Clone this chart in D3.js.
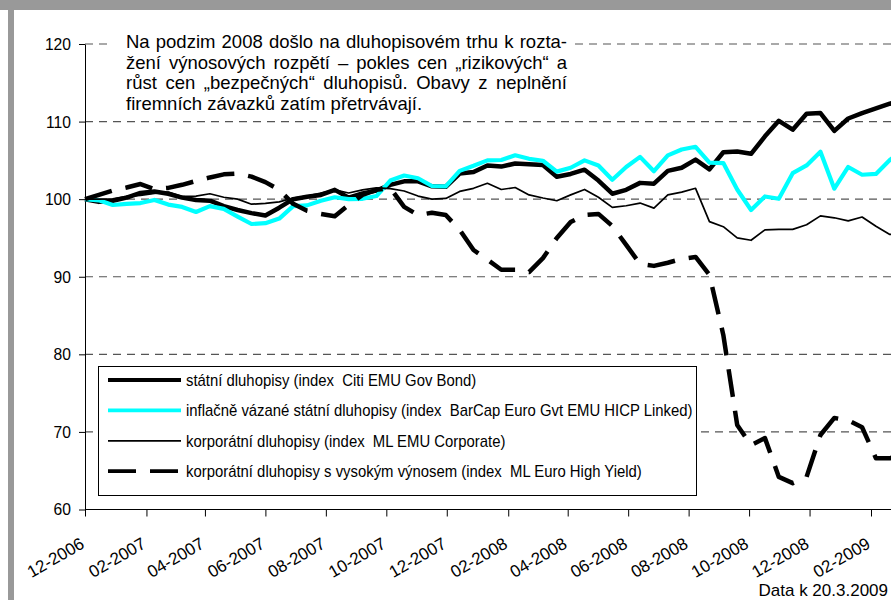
<!DOCTYPE html>
<html>
<head>
<meta charset="utf-8">
<script src="https://cdn.jsdelivr.net/npm/d3@7"></script>
<style>
  body { margin: 0; background: #fff; }
</style>
</head>
<body>
<div class="chart"></div>
<script>
// biweekly observations, index = 100 at start
const dates = [
  "2006-12-01","2006-12-15","2006-12-29","2007-01-12","2007-01-26","2007-02-09","2007-02-23","2007-03-09","2007-03-23","2007-04-06",
  "2007-04-20","2007-05-04","2007-05-18","2007-06-01","2007-06-15","2007-06-29","2007-07-13","2007-07-27","2007-08-10","2007-08-24",
  "2007-09-07","2007-09-21","2007-10-05","2007-10-19","2007-11-02","2007-11-16","2007-11-30","2007-12-14","2007-12-28","2008-01-11",
  "2008-01-25","2008-02-08","2008-02-22","2008-03-07","2008-03-21","2008-04-04","2008-04-18","2008-05-02","2008-05-16","2008-05-30",
  "2008-06-13","2008-06-27","2008-07-11","2008-07-25","2008-08-08","2008-08-22","2008-09-05","2008-09-19","2008-10-03","2008-10-17",
  "2008-10-31","2008-11-14","2008-11-28","2008-12-12","2008-12-26","2009-01-09","2009-01-23","2009-02-06","2009-02-20","2009-03-06"
];

const statni = [
  100, 99.65, 99.8, 100.2, 100.8, 101.0, 100.7, 100.2, 99.9, 99.8,
  99.1, 98.6, 98.2, 97.9, 98.9, 100.0, 100.3, 100.55, 101.2, 100.2,
  100.75, 101.1, 101.85, 102.3, 102.3, 101.65, 101.6, 103.3, 103.5, 104.35,
  104.2, 104.6, 104.5, 104.4, 102.9, 103.25, 103.8, 102.4, 100.7, 101.2,
  102.1, 102.0, 103.65, 104.05, 105.1, 103.85, 106.05, 106.15, 105.85, 108.1,
  110.1, 108.95, 111.0, 111.1, 108.8, 110.4, 111.1, 111.7, 112.3, 112.8
];

const inflacni = [
  100, 99.85, 99.25, 99.4, 99.5, 99.9, 99.3, 99.0, 98.35, 99.1,
  98.75, 97.75, 96.8, 96.9, 97.5, 99.1, 99.2, 99.8, 100.25, 100.0,
  100.05, 100.4, 102.4, 103.05, 102.7, 101.7, 101.65, 103.65, 104.3, 105.0,
  105.05, 105.65, 105.2, 104.95, 103.55, 104.05, 105.0, 104.35, 102.5, 104.15,
  105.45, 103.6, 105.65, 106.4, 106.75, 104.7, 104.65, 101.25, 98.6, 100.35,
  100.05, 103.35, 104.35, 106.1, 101.35, 104.15, 103.15, 103.25, 105.05, 106.4
];

const korporatni = [
  100, 100.0, 100.05, 100.35, 100.5, 100.75, 100.9, 100.35, 100.4, 100.7,
  100.25, 100.0, 99.35, 99.45, 99.65, 100.15, 100.4, 100.8, 101.2, 100.8,
  101.2, 101.45, 101.35, 101.05, 100.4, 100.0, 100.1, 101.0, 101.4, 102.05,
  101.25, 101.5, 100.55, 100.15, 99.8, 100.55, 101.25, 100.25, 98.95, 99.15,
  99.5, 98.85, 100.55, 100.9, 101.4, 97.1, 96.45, 95.0, 94.7, 96.05,
  96.1, 96.1, 96.7, 97.85, 97.6, 97.2, 97.7, 96.5, 95.45, 95.65
];

const highYield = [
  100, 100.55, 101.1, 101.5, 101.95, 101.3, 101.45, 101.85, 102.35, 102.8,
  103.2, 103.3, 102.9, 102.2, 101.2, 99.4, 98.5, 98.1, 97.8, 99.25,
  100.55, 101.2, 101.45, 99.0, 97.95, 98.25, 97.95, 96.05, 93.45, 92.2,
  90.9, 90.9, 90.6, 92.4, 95.0, 97.05, 97.95, 98.1, 96.55, 94.1,
  91.65, 91.4, 91.8, 92.3, 92.55, 90.25, 82.5, 70.9, 68.3, 69.2,
  64.2, 63.4, 64.2, 69.6, 71.8, 71.5, 70.6, 66.6, 66.6, 67.2
];

const seriesNames = [
  "státní dluhopisy (index  Citi EMU Gov Bond)",
  "inflačně vázané státní dluhopisy (index  BarCap Euro Gvt EMU HICP Linked)",
  "korporátní dluhopisy (index  ML EMU Corporate)",
  "korporátní dluhopisy s vysokým výnosem (index  ML Euro High Yield)"
];

const tickLabels = [
  "12-2006","02-2007","04-2007","06-2007","08-2007","10-2007","12-2007",
  "02-2008","04-2008","06-2008","08-2008","10-2008","12-2008","02-2009"
];

const yTicks = [60, 70, 80, 90, 100, 110, 120];

const noteLines = [
  "Na podzim 2008 došlo na dluhopisovém trhu k rozta-",
  "žení výnosových rozpětí – pokles cen „rizikových“ a",
  "růst cen „bezpečných“ dluhopisů. Obavy z neplnění",
  "firemních závazků zatím přetrvávají."
];

const dataNote = "Data k 20.3.2009";

function chart() {
  const width = 891, height = 600;
  const sans = "'Liberation Sans', Arial, sans-serif";
  const parseDay = d3.timeParse("%Y-%m-%d");
  const parseMonth = d3.timeParse("%m-%Y");

  const svg = d3.select(".chart")
    .append("svg")
    .attr("width", width)
    .attr("height", height)
    .attr("font-family", sans);

  // grey frame of the original slide
  svg.append("rect").attr("x", 0).attr("y", 0)
    .attr("width", width).attr("height", 10).attr("fill", "#999");
  svg.append("rect").attr("x", 8).attr("y", 10)
    .attr("width", 6).attr("height", height - 10).attr("fill", "#999");

  const x = d3.scaleTime()
    .domain([parseMonth(tickLabels[0]), parseMonth(tickLabels[tickLabels.length - 1])])
    .range([85, 871]);

  const y = d3.scaleLinear()
    .domain([60, 120])
    .range([509.5, 44]);

  // gridlines
  svg.append("g")
    .selectAll("line")
    .data(yTicks.filter(d => d > 60))
    .join("line")
    .attr("x1", 85)
    .attr("x2", width)
    .attr("y1", d => y(d))
    .attr("y2", d => y(d))
    .attr("stroke", "#555")
    .attr("stroke-width", 1.2)
    .attr("stroke-dasharray", "8,6");

  const yAxis = d3.axisLeft(y)
    .tickValues(yTicks)
    .tickSize(6)
    .tickSizeOuter(0)
    .tickPadding(8);

  svg.append("g")
    .attr("transform", "translate(85,0)")
    .call(yAxis)
    .call(g => g.selectAll("text")
      .attr("font-family", sans)
      .attr("font-size", 17)
      .attr("fill", "#000")
      .call(squeeze, 0.92))
    .call(g => g.selectAll("line, path").attr("stroke", "#000"));

  const xAxis = d3.axisBottom(x)
    .tickValues(tickLabels.map(parseMonth))
    .tickSize(7)
    .tickSizeOuter(0)
    .tickFormat((d, i) => tickLabels[i]);

  svg.append("g")
    .attr("transform", `translate(0,${y(60)})`)
    .call(xAxis)
    .call(g => g.select(".domain").attr("d", `M85,0H${width}`).attr("stroke", "#000"))
    .call(g => g.selectAll(".tick line").attr("stroke", "#000"))
    .call(g => g.selectAll("text")
      .attr("font-family", sans)
      .attr("font-size", 17)
      .attr("fill", "#000")
      .attr("text-anchor", "end")
      .attr("x", 0)
      .attr("y", 0)
      .attr("dy", "0.71em")
      .attr("transform", "translate(-6,27) rotate(-30)"));

  // the series
  const series = [
    { name: seriesNames[0], values: statni, color: "#000", w: 4.5, dash: null },
    { name: seriesNames[1], values: inflacni, color: "#00ffff", w: 4.2, dash: null },
    { name: seriesNames[2], values: korporatni, color: "#000", w: 1.7, dash: null },
    { name: seriesNames[3], values: highYield, color: "#000", w: 4.5, dash: "28,14" }
  ];

  const line = d3.line()
    .x(d => x(d.date))
    .y(d => y(d.v));

  series.forEach(s => {
    const pts = dates.map((d, i) => ({ date: parseDay(d), v: s.values[i] }));
    svg.append("path")
      .datum(pts)
      .attr("fill", "none")
      .attr("stroke", s.color)
      .attr("stroke-width", s.w)
      .attr("stroke-linejoin", "round")
      .attr("stroke-dasharray", s.dash)
      .attr("d", line);
  });

  // annotation box, justified like the original
  svg.append("rect")
    .attr("x", 112).attr("y", 26)
    .attr("width", 463).attr("height", 90)
    .attr("fill", "#fff");

  const note = svg.append("g")
    .attr("font-size", 18.5)
    .attr("fill", "#000");

  noteLines.forEach((txt, i) => {
    const yy = 48 + i * 20.7;
    if (i === noteLines.length - 1) {
      note.append("text").attr("x", 126).attr("y", yy).text(txt);
      return;
    }
    const words = txt.split(" ");
    const nodes = words.map(w => note.append("text").attr("y", yy).text(w));
    const widths = nodes.map(n => n.node().getComputedTextLength());
    const gap = (441 - d3.sum(widths)) / (words.length - 1);
    let cx = 126;
    nodes.forEach((n, j) => {
      n.attr("x", cx);
      cx += widths[j] + gap;
    });
  });

  // legend
  const legend = svg.append("g");
  legend.append("rect")
    .attr("x", 98.5).attr("y", 366.5)
    .attr("width", 598).attr("height", 129)
    .attr("fill", "#fff")
    .attr("stroke", "#000")
    .attr("stroke-width", 1);

  const rows = legend.selectAll(".row")
    .data(series)
    .join("g")
    .attr("class", "row")
    .attr("transform", (d, i) => `translate(0,${380 + i * 30.4})`);

  rows.append("line")
    .attr("x1", 108).attr("x2", 181)
    .attr("stroke", d => d.color)
    .attr("stroke-width", d => d.w === 1.7 ? 1.7 : 3.8)
    .attr("stroke-dasharray", d => d.dash);

  rows.append("text")
    .attr("x", 186)
    .attr("dy", "0.35em")
    .attr("font-size", 17)
    .style("white-space", "pre")
    .text(d => d.name)
    .call(squeeze, 0.875);

  svg.append("text")
    .attr("x", 888)
    .attr("y", 596)
    .attr("text-anchor", "end")
    .attr("font-size", 17)
    .text(dataNote);

  // no narrow font installed: compress the glyphs horizontally instead
  function squeeze(text, k) {
    text.each(function() {
      const w = this.getComputedTextLength();
      d3.select(this)
        .attr("textLength", w * k)
        .attr("lengthAdjust", "spacingAndGlyphs");
    });
  }
}
chart();
</script>
</body>
</html>
